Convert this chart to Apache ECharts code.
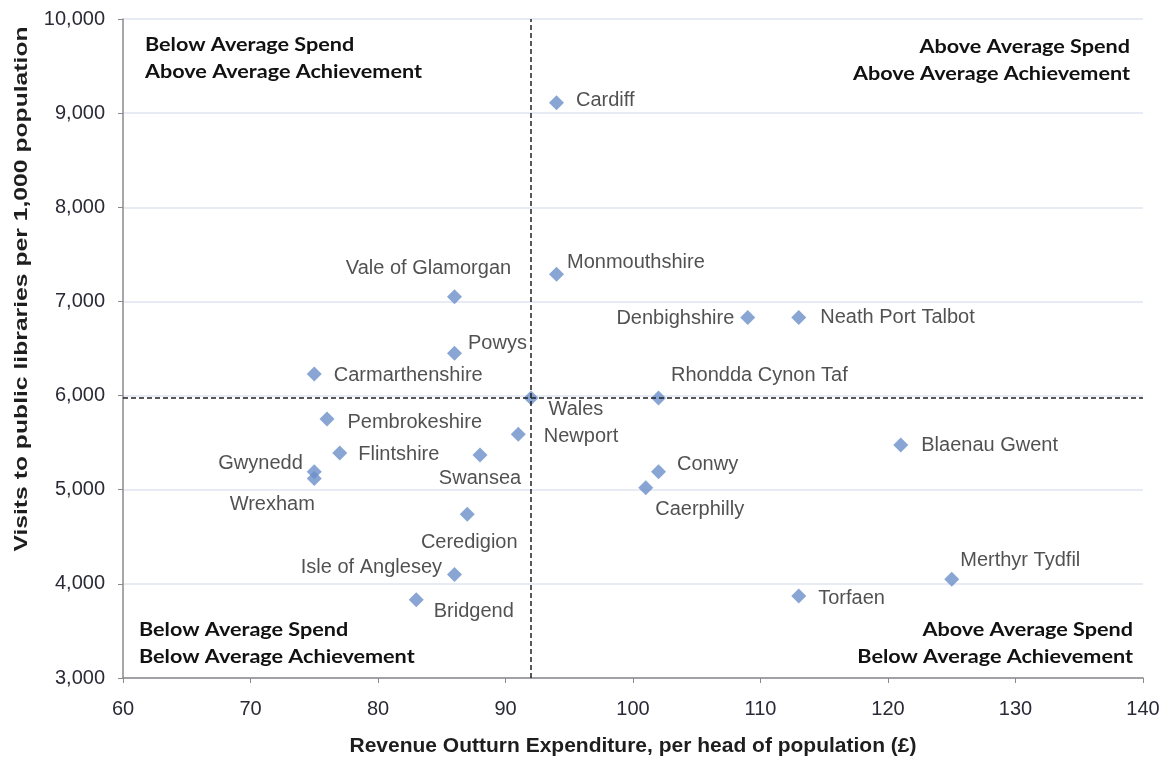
<!DOCTYPE html>
<html>
<head>
<meta charset="utf-8">
<script src="https://cdn.jsdelivr.net/npm/echarts@6/dist/echarts.min.js"></script>
<style>
  html, body { margin: 0; padding: 0; background: #fff; }
  #main { width: 1169px; height: 762px; }
</style>
</head>
<body>
<div id="main"></div>
<script>
// local authorities, spend per head (£) and visits per 1,000 population
const names = ['Cardiff', 'Monmouthshire', 'Vale of Glamorgan', 'Powys', 'Carmarthenshire',
  'Denbighshire', 'Neath Port Talbot', 'Rhondda Cynon Taf', 'Wales', 'Pembrokeshire',
  'Newport', 'Flintshire', 'Swansea', 'Gwynedd', 'Wrexham', 'Blaenau Gwent', 'Conwy',
  'Caerphilly', 'Ceredigion', 'Isle of Anglesey', 'Bridgend', 'Merthyr Tydfil', 'Torfaen'];
const spend = [94, 94, 86, 86, 75, 109, 113, 102, 92, 76, 91, 77, 88, 75, 75, 121, 102, 101, 87, 86, 83, 125, 113];
const visits = [9110, 7290, 7050, 6450, 6230, 6830, 6830, 5975, 5975, 5750, 5590, 5390, 5370, 5190, 5120, 5475, 5190, 5020, 4740, 4100, 3830, 4050, 3870];

const avgSpend = 92;
const avgVisits = 5975;

const xTicks = { min: 60, max: 140, step: 10 };
const yTicks = { min: 3000, max: 10000, step: 1000 };

// where each name sits next to its marker: [position, dx, dy]
const labelLayout = {
  'Cardiff': ['right', 0, -2],
  'Monmouthshire': ['right', -9, -12],
  'Vale of Glamorgan': ['top', -26, 1],
  'Powys': ['right', -6, -10],
  'Carmarthenshire': ['right', 0, 2],
  'Denbighshire': ['left', 6, 1],
  'Neath Port Talbot': ['right', 2, 0],
  'Rhondda Cynon Taf': ['right', -7, -22],
  'Wales': ['right', -2, 12],
  'Pembrokeshire': ['right', 1, 3],
  'Newport': ['right', 6, 2],
  'Flintshire': ['right', -1, 1],
  'Swansea': ['bottom', 0, -6],
  'Gwynedd': ['left', 8, -8],
  'Wrexham': ['bottom', -42, -3],
  'Blaenau Gwent': ['right', 1, 0],
  'Conwy': ['right', -1, -7],
  'Caerphilly': ['right', -10, 22],
  'Ceredigion': ['bottom', 2, -1],
  'Isle of Anglesey': ['left', 7, -7],
  'Bridgend': ['right', -2, 12],
  'Merthyr Tydfil': ['right', -11, -19],
  'Torfaen': ['right', 0, 2]
};

const points = names.map(function (n, i) {
  const l = labelLayout[n];
  return {
    name: n,
    value: [spend[i], visits[i]],
    label: { position: l[0], offset: [l[1], l[2]] }
  };
});

const quadFont = 'bold 18px Lato';
const myChart = echarts.init(document.getElementById('main'), null, { renderer: 'canvas' });

const option = {
  animation: false,
  backgroundColor: '#fff',
  grid: { left: 123, right: 26, top: 19, bottom: 84, containLabel: false },
  xAxis: {
    type: 'value',
    min: xTicks.min,
    max: xTicks.max,
    interval: xTicks.step,
    name: 'Revenue Outturn Expenditure, per head of population (£)',
    nameLocation: 'middle',
    nameGap: 58,
    nameTextStyle: { fontFamily: 'Liberation Sans', fontWeight: 'bold', fontSize: 21, color: '#1e1e1e' },
    axisLine: { lineStyle: { color: '#8a8a8a', width: 1.5 } },
    axisTick: { show: true, length: 5, lineStyle: { color: '#8a8a8a' } },
    axisLabel: { margin: 21, fontFamily: 'Liberation Sans', fontSize: 20, color: '#2a2a36' },
    splitLine: { show: false }
  },
  yAxis: {
    type: 'value',
    min: yTicks.min,
    max: yTicks.max,
    interval: yTicks.step,
    axisLine: { show: true, lineStyle: { color: '#8a8a8a', width: 1.5 } },
    axisTick: { show: true, length: 5, lineStyle: { color: '#8a8a8a' } },
    axisLabel: {
      margin: 18,
      fontFamily: 'Liberation Sans',
      fontSize: 20,
      color: '#2a2a36',
      formatter: function (v) { return v.toLocaleString('en-US'); }
    },
    splitLine: { show: true, lineStyle: { color: '#dfe5f1', width: 1.5 } }
  },
  graphic: [
    {
      type: 'text', x: 22, y: 289, rotation: Math.PI / 2, scaleX: 1.3,
      style: {
        text: 'Visits to public libraries per 1,000 population',
        font: 'bold 19px "Liberation Sans"', fill: '#1e1e1e',
        textAlign: 'center', textVerticalAlign: 'middle'
      }
    },
    {
      type: 'text', x: 145, y: 59, scaleX: 1.2,
      style: {
        text: 'Below Average Spend\nAbove Average Achievement', font: quadFont, fill: '#111',
        lineHeight: 27, textAlign: 'left', textVerticalAlign: 'middle'
      }
    },
    {
      type: 'text', x: 1130, y: 61, scaleX: 1.2,
      style: {
        text: 'Above Average Spend\nAbove Average Achievement', font: quadFont, fill: '#111',
        lineHeight: 27, textAlign: 'right', textVerticalAlign: 'middle'
      }
    },
    {
      type: 'text', x: 139, y: 644, scaleX: 1.2,
      style: {
        text: 'Below Average Spend\nBelow Average Achievement', font: quadFont, fill: '#111',
        lineHeight: 27, textAlign: 'left', textVerticalAlign: 'middle'
      }
    },
    {
      type: 'text', x: 1133, y: 644, scaleX: 1.2,
      style: {
        text: 'Above Average Spend\nBelow Average Achievement', font: quadFont, fill: '#111',
        lineHeight: 27, textAlign: 'right', textVerticalAlign: 'middle'
      }
    }
  ],
  series: [{
    type: 'scatter',
    symbol: 'diamond',
    symbolSize: 15,
    itemStyle: { color: '#6a8fc9' },
    data: points,
    label: {
      show: true,
      formatter: '{b}',
      distance: 12,
      fontFamily: 'Liberation Sans',
      fontSize: 20,
      color: '#262626'
    },
    markLine: {
      silent: true,
      symbol: 'none',
      label: { show: false },
      lineStyle: { color: '#222', type: [5, 3], width: 1.5 },
      data: [{ xAxis: avgSpend }, { yAxis: avgVisits }]
    },
    z: 3
  }]
};

myChart.setOption(option);
</script>
</body>
</html>
